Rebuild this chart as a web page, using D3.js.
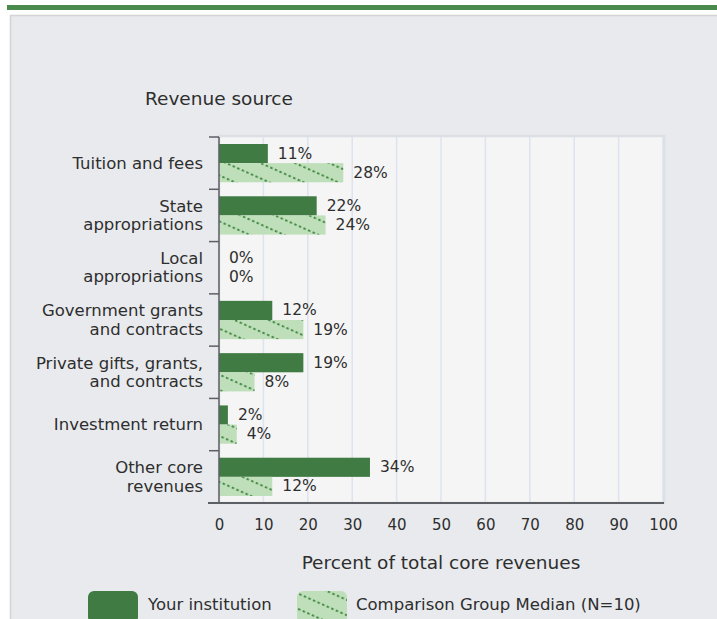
<!DOCTYPE html>
<html>
<head>
<meta charset="utf-8">
<script src="https://cdn.jsdelivr.net/npm/d3@7"></script>
<style>
  html, body { margin: 0; padding: 0; background: #ffffff; }
  svg { display: block; }
  text { font-family: "DejaVu Sans", Verdana, sans-serif; fill: #2e2e2e; }
</style>
</head>
<body>
<script>
// ---- data ----
const categories = [
  "Tuition and fees",
  "State appropriations",
  "Local appropriations",
  "Government grants and contracts",
  "Private gifts, grants, and contracts",
  "Investment return",
  "Other core revenues"
];
const categoryLines = [
  ["Tuition and fees"],
  ["State", "appropriations"],
  ["Local", "appropriations"],
  ["Government grants", "and contracts"],
  ["Private gifts, grants,", "and contracts"],
  ["Investment return"],
  ["Other core", "revenues"]
];
const seriesNames = ["Your institution", "Comparison Group Median (N=10)"];
const yourValues = [11, 22, 0, 12, 19, 2, 34];
const compValues = [28, 24, 0, 19, 8, 4, 12];
const xTicks = [0, 10, 20, 30, 40, 50, 60, 70, 80, 90, 100];

// ---- layout ----
const W = 717, H = 619;
const plot = { left: 219, right: 663, top: 137, bottom: 503 };
const darkGreen = "#3f7b42";
const lightGreen = "#bfdfba";
const dotGreen = "#4a8e4c";

const svg = d3.select("body").append("svg").attr("width", W).attr("height", H);

const defs = svg.append("defs");
const pat = defs.append("pattern")
  .attr("id", "hatch")
  .attr("patternUnits", "userSpaceOnUse")
  .attr("width", 5).attr("height", 14)
  .attr("patternTransform", "rotate(24)");
pat.append("rect").attr("width", 5).attr("height", 14).attr("fill", lightGreen);
pat.append("rect").attr("x", 0).attr("y", 0).attr("width", 2.5).attr("height", 2).attr("fill", dotGreen);

// header & panel
svg.append("rect").attr("x", 7).attr("y", 5).attr("width", W - 7).attr("height", 5).attr("fill", "#4b8a4d");
svg.append("rect").attr("x", 10.5).attr("y", 15.5).attr("width", W).attr("height", H)
  .attr("fill", "#e8eaed").attr("stroke", "#d2d4d8").attr("stroke-width", 1.5);

// scales
const x = d3.scaleLinear().domain([0, 100]).range([plot.left, plot.right]);
const y = d3.scaleBand().domain(categories).range([plot.top, plot.bottom]).paddingInner(0).paddingOuter(0);
const bw = y.bandwidth();
const inner = d3.scaleBand().domain(seriesNames).range([7, bw - 7]);

// plot background
svg.append("rect")
  .attr("x", plot.left).attr("y", plot.top - 1)
  .attr("width", plot.right - plot.left + 1).attr("height", plot.bottom - plot.top + 1)
  .attr("fill", "#f5f5f5").attr("stroke", "#dcdfe4").attr("stroke-width", 2.5);

// gridlines
svg.append("g").selectAll("line").data(xTicks.slice(1)).join("line")
  .attr("x1", d => x(d)).attr("x2", d => x(d))
  .attr("y1", plot.top).attr("y2", plot.bottom)
  .attr("stroke", "#dde3ef").attr("stroke-width", 1.5);

// bars
const rows = categories.map((c, i) => ({ c, your: yourValues[i], comp: compValues[i] }));
const g = svg.append("g");
rows.forEach(r => {
  const y0 = y(r.c);
  g.append("rect")
    .attr("x", x(0)).attr("y", y0 + inner(seriesNames[0]))
    .attr("width", x(r.your) - x(0)).attr("height", inner.bandwidth())
    .attr("fill", darkGreen);
  g.append("rect")
    .attr("x", x(0)).attr("y", y0 + inner(seriesNames[1]))
    .attr("width", x(r.comp) - x(0)).attr("height", inner.bandwidth())
    .attr("fill", "url(#hatch)");
  g.append("text")
    .attr("x", x(r.your) + 10).attr("y", y0 + inner(seriesNames[0]) + inner.bandwidth() / 2)
    .attr("dominant-baseline", "central").attr("font-size", 15.5).text(r.your + "%");
  g.append("text")
    .attr("x", x(r.comp) + 10).attr("y", y0 + inner(seriesNames[1]) + inner.bandwidth() / 2)
    .attr("dominant-baseline", "central").attr("font-size", 15.5).text(r.comp + "%");
});

// y axis line and ticks
const axisColor = "#5c5f64";
svg.append("line").attr("x1", plot.left).attr("x2", plot.left)
  .attr("y1", plot.top).attr("y2", plot.bottom)
  .attr("stroke", axisColor).attr("stroke-width", 1.5);
const boundaries = categories.map(c => y(c)).concat([plot.bottom]);
svg.append("g").selectAll("line").data(boundaries).join("line")
  .attr("x1", plot.left - 10).attr("x2", plot.left)
  .attr("y1", d => d).attr("y2", d => d)
  .attr("stroke", axisColor).attr("stroke-width", 1.5);

// category labels
categories.forEach((c, i) => {
  const lines = categoryLines[i];
  const cy = y(c) + bw / 2;
  const lh = 18.5;
  const t = svg.append("text").attr("text-anchor", "end").attr("font-size", 16.5);
  lines.forEach((ln, j) => {
    t.append("tspan").attr("x", 203)
      .attr("y", cy + (j - (lines.length - 1) / 2) * lh)
      .attr("dominant-baseline", "central").text(ln);
  });
});

// x axis
const xAxis = svg.append("g").attr("transform", `translate(0,${plot.bottom})`)
  .call(d3.axisBottom(x).tickValues(xTicks).tickSize(0).tickPadding(16));
xAxis.select(".domain").remove();
xAxis.selectAll("text").attr("font-size", 15).attr("fill", "#2e2e2e")
  .style("font-family", '"DejaVu Sans", Verdana, sans-serif');
svg.append("line").attr("x1", plot.left - 11).attr("x2", plot.right + 1)
  .attr("y1", plot.bottom).attr("y2", plot.bottom)
  .attr("stroke", axisColor).attr("stroke-width", 2);

// titles
svg.append("text").attr("x", 145).attr("y", 98).attr("dominant-baseline", "central")
  .attr("font-size", 18.5).text("Revenue source");
svg.append("text").attr("x", (plot.left + plot.right) / 2).attr("y", 562)
  .attr("text-anchor", "middle").attr("dominant-baseline", "central")
  .attr("font-size", 18.5).text("Percent of total core revenues");

// legend
const legend = [
  { name: seriesNames[0], fill: darkGreen, sx: 88, tx: 148 },
  { name: seriesNames[1], fill: "url(#hatch)", sx: 297, tx: 356 }
];
legend.forEach(l => {
  svg.append("rect").attr("x", l.sx).attr("y", 591).attr("width", 50).attr("height", 32)
    .attr("rx", 6).attr("fill", l.fill);
  svg.append("text").attr("x", l.tx).attr("y", 604).attr("dominant-baseline", "central")
    .attr("font-size", 16.5).text(l.name);
});
</script>
</body>
</html>
